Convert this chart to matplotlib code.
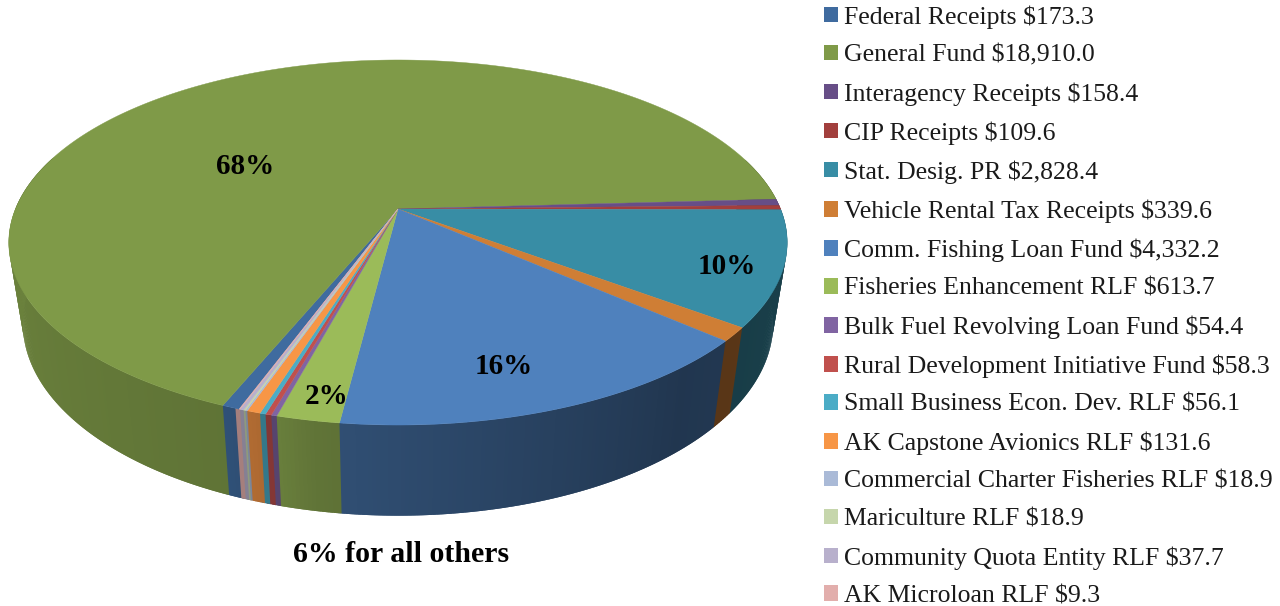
import matplotlib
matplotlib.use("Agg")
import matplotlib.pyplot as plt
from matplotlib.collections import PolyCollection
from matplotlib.patches import Patch
import numpy as np

plt.rcParams['font.family'] = ['Liberation Serif', 'DejaVu Serif']

names = ["Federal Receipts", "General Fund", "Interagency Receipts", "CIP Receipts",
         "Stat. Desig. PR", "Vehicle Rental Tax Receipts", "Comm. Fishing Loan Fund",
         "Fisheries Enhancement RLF", "Bulk Fuel Revolving Loan Fund",
         "Rural Development Initiative Fund", "Small Business Econ. Dev. RLF",
         "AK Capstone Avionics RLF", "Commercial Charter Fisheries RLF",
         "Mariculture RLF", "Community Quota Entity RLF", "AK Microloan RLF"]
values = [173.3, 18910.0, 158.4, 109.6, 2828.4, 339.6, 4332.2, 613.7,
          54.4, 58.3, 56.1, 131.6, 18.9, 18.9, 37.7, 9.3]
colors = ["#3f6b9f", "#7f9a48", "#674e87", "#a23f3d", "#388da5", "#cf7e35", "#4f81bd", "#9bbb59",
          "#8064a2", "#c0504d", "#4bacc6", "#f79646", "#aabad7", "#c6d6ac", "#b8b0cc", "#e2aeac"]
pct_labels = ["68%", "10%", "16%", "2%"]
pct_x = [245, 727, 504, 327]
pct_y = [167, 267, 367, 396]

# perspective of the disc, in pixels
start_angle = 110.1
k = -0.1836
top_geom = (382.6, 138.0, 209.0)
bottom_geom = (368.8, 133.0, 288.0)
cx = 398


def project(phi, geom):
    a, b, c = geom
    xx = np.cos(np.radians(phi))
    yy = np.sin(np.radians(phi))
    d = 1 + k * yy
    return cx + a * xx / d, (b * yy + c) / d


def shade(phi):
    p = (phi + 180) % 360 - 180
    return np.interp(p, [-10, 20, 50, 100, 112, 130, 180, 200],
                     [.42, .45, .42, .62, .75, .78, .85, .85])


fig = plt.figure(figsize=(12.8, 6.06), dpi=100)
ax = fig.add_axes([0, 0, 1, 1])
ax.set_xlim(0, 1280)
ax.set_ylim(606, 0)
ax.axis('off')

edges = start_angle + np.concatenate([[0], np.cumsum(values)]) / np.sum(values) * 360

# rim first, the top goes over it
# each quad runs over into the next one so no seams show
step = 0.5
quads = []
quad_colors = []
for i in range(len(values)):
    n = max(int((edges[i + 1] - edges[i]) / step), 1)
    phis = np.linspace(edges[i], edges[i + 1], n + 1)
    base = np.array(matplotlib.colors.to_rgb(colors[i]))
    for p0, p1 in zip(phis[:-1], phis[1:]):
        if np.sin(np.radians(p0)) < -0.3:
            continue
        x0, y0 = project(p0, top_geom)
        x1, y1 = project(p1 + step, top_geom)
        x2, y2 = project(p1 + step, bottom_geom)
        x3, y3 = project(p0, bottom_geom)
        quads.append([(x0, y0), (x1, y1), (x2, y2), (x3, y3)])
        quad_colors.append(base * shade((p0 + p1) / 2))
ax.add_collection(PolyCollection(quads, facecolors=quad_colors, edgecolors='none'))

for i in range(len(values)):
    phis = np.linspace(edges[i], edges[i + 1], max(int((edges[i + 1] - edges[i]) * 2), 2) + 1)
    x, y = project(phis, top_geom)
    ax.fill(np.r_[cx, x], np.r_[top_geom[2], y], color=colors[i], lw=0.3)

for lab, x, y in zip(pct_labels, pct_x, pct_y):
    ax.text(x, y, lab, ha='center', va='center', fontsize=21, fontweight='bold', color='black')
ax.text(401, 555, "6% for all others", ha='center', va='center', fontsize=21.5, fontweight='bold', color='black')

handles = [Patch(facecolor=c, label=r"%s \$%s" % (nm, format(v, ",.1f")))
           for nm, v, c in zip(names, values, colors)]
ax.legend(handles=handles, loc='upper left', bbox_to_anchor=(819 / 1280, 1), frameon=False,
          fontsize=18.5, labelspacing=0.61, handlelength=0.545, handleheight=0.545, handletextpad=0.233,
          borderpad=0.2, borderaxespad=0, labelcolor='#1a1a1a')

plt.savefig('out.png', dpi=100)
